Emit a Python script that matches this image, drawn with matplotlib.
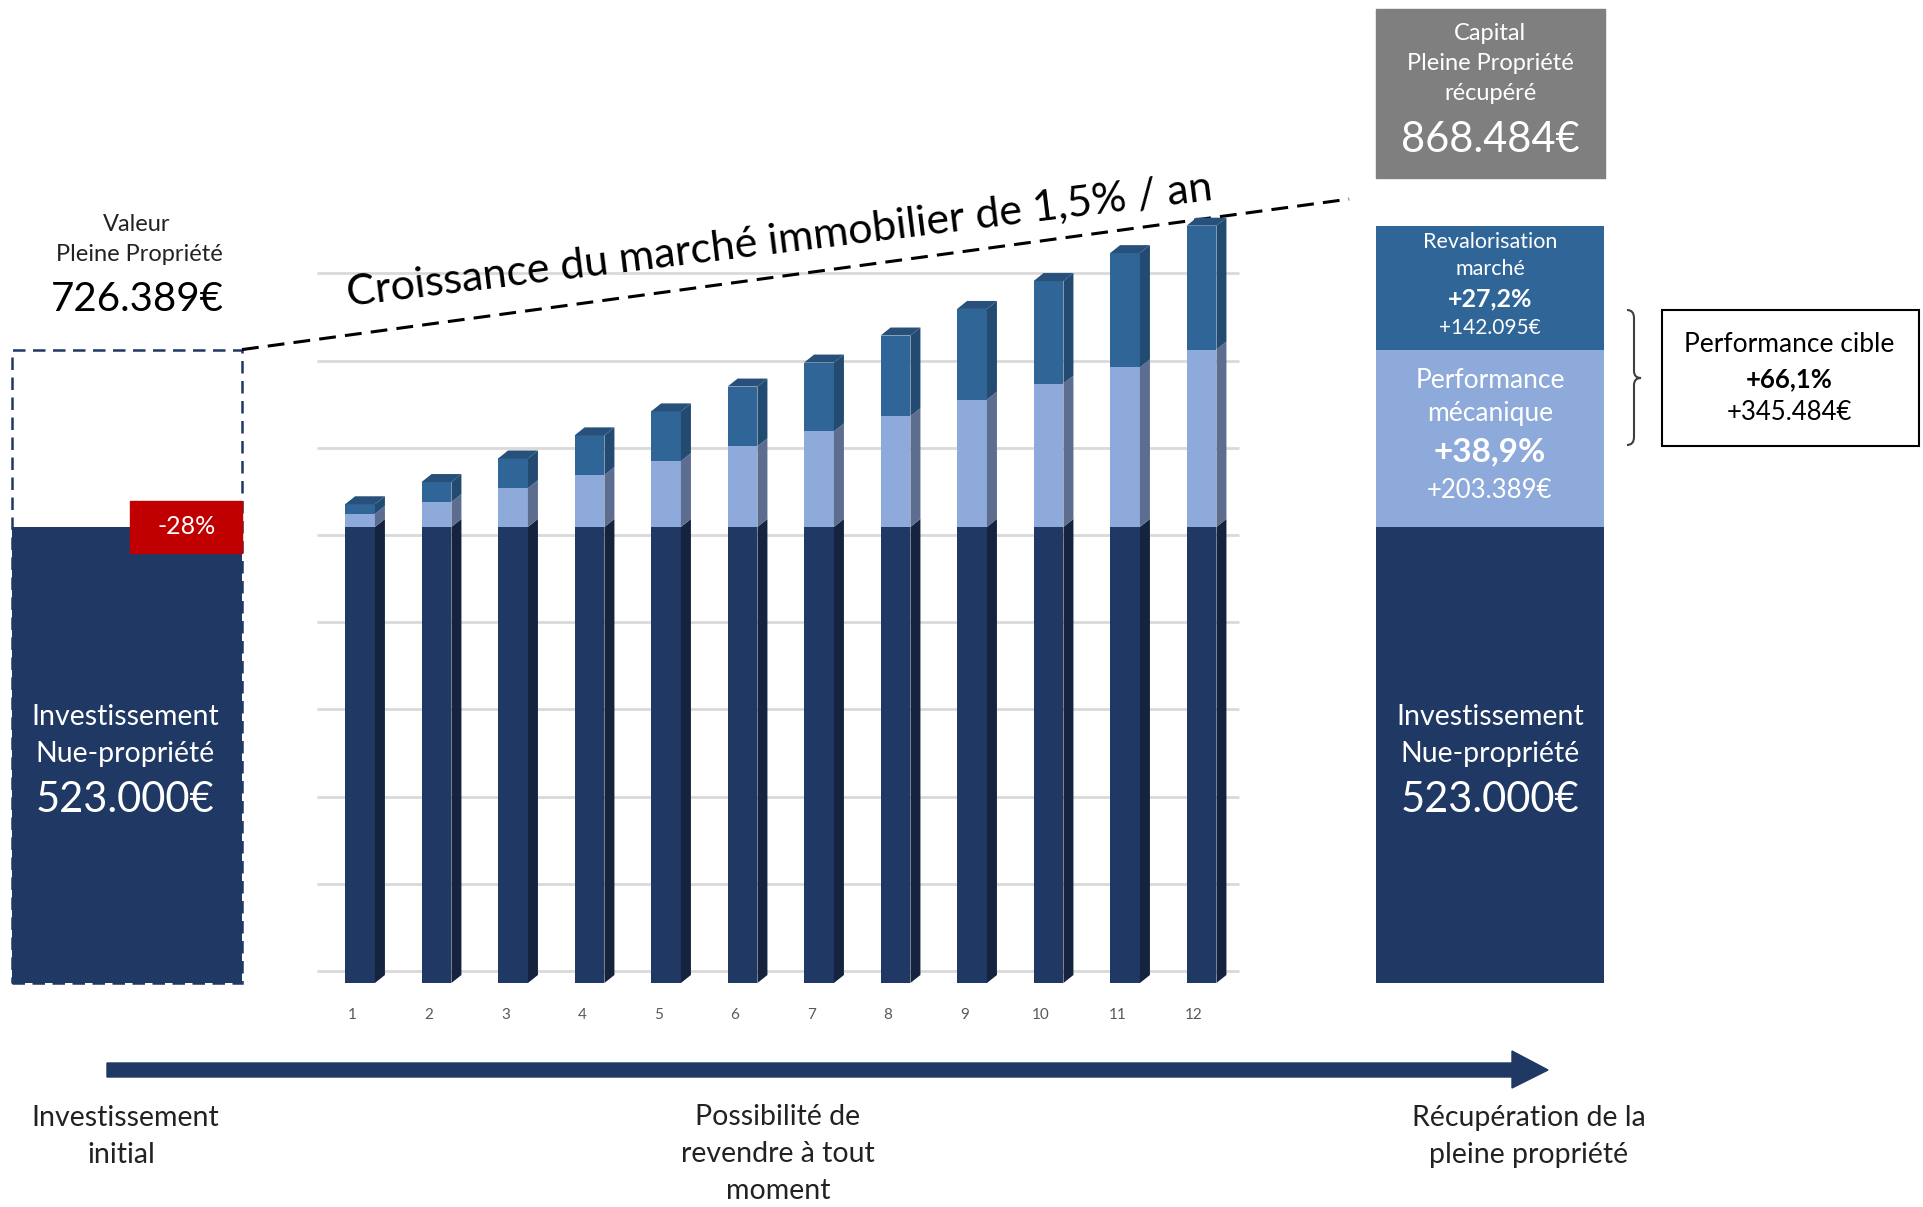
import matplotlib.pyplot as plt
import matplotlib.transforms as mtransforms
from matplotlib.patches import Rectangle, Polygon, PathPatch
from matplotlib.path import Path
import numpy as np

# Data
years = list(range(1, 13))
nue_propriete = [523000] * 12
perf_mecanique = [15000, 28500, 44500, 59500, 75500, 92500, 109500, 127000, 146000, 164500, 183000, 203389]
revalorisation = [11000, 23000, 34000, 45500, 57000, 68500, 79000, 92500, 104000, 117500, 131000, 142095]

investissement = 523000
valeur_pleine_propriete = 726389
capital_final = 868484
marche_line = [726389, 899000]   # dashed growth line (start, end)
grid_values = list(range(0, 900000, 100000))

W, H = 1923, 1207
plt.rcParams['font.family'] = ['Lato', 'DejaVu Sans']

NAVY, NAVY_SIDE = '#1f3864', '#15233f'
LIGHT, LIGHT_SIDE = '#8eaadb', '#5d6d8f'
MID, MID_SIDE, MID_TOP = '#306598', '#234a70', '#27507a'
TXT = '#222222'

fig = plt.figure(figsize=(W / 100, H / 100), dpi=100)
fig.patch.set_facecolor('white')
ax = fig.add_axes([0, 0, 1, 1])
ax.set_xlim(-3.706, 21.431)
ax.set_ylim(-256881, 1127294)
ax.axis('off')

# pixel-space transform (origin top-left) for the decorations
PX = mtransforms.Affine2D().scale(1 / 100, -1 / 100).translate(0, H / 100) + fig.dpi_scale_trans


def label(px, py, s, **kw):
    kw.setdefault('ha', 'center')
    kw.setdefault('va', 'center')
    kw.setdefault('color', TXT)
    fig.text(px / W, 1 - py / H, s, **kw)


# gridlines (shifted up a little, like the 3D floor of the original)
xs = np.array(years, dtype=float)
grid_trans = mtransforms.offset_copy(ax.transData, fig=fig, x=0, y=12, units='dots')
ax.hlines(grid_values, xs[0] - 0.56, xs[-1] + 0.49, color='#d9d9d9', lw=2, transform=grid_trans, zorder=1)

# stacked bars, front faces
nue = np.array(nue_propriete)
perf = np.array(perf_mecanique)
reval = np.array(revalorisation)
bw = 0.39
ax.bar(xs, nue, bw, color=NAVY, zorder=3)
ax.bar(xs, perf, bw, bottom=nue, color=LIGHT, zorder=3)
ax.bar(xs, reval, bw, bottom=nue + perf, color=MID, zorder=3)

# fake 3D: side and top faces, built from the same data in display space
dx, dy = 10, 8
segments = [(np.zeros(12), nue, NAVY_SIDE), (nue, nue + perf, LIGHT_SIDE), (nue + perf, nue + perf + reval, MID_SIDE)]
for b_vals, t_vals, side_col in segments:
    for x, b, t in zip(xs, b_vals, t_vals):
        (xl, yb), (xr, yt) = ax.transData.transform([(x - bw / 2, b), (x + bw / 2, t)])
        side = [(xr, yb), (xr + dx, yb + dy), (xr + dx, yt + dy), (xr, yt)]
        fig.add_artist(Polygon(side, closed=True, transform=mtransforms.IdentityTransform(),
                               color=side_col, lw=0, zorder=2))
for x, t in zip(xs, nue + perf + reval):
    (xl, yt), (xr, _) = ax.transData.transform([(x - bw / 2, t), (x + bw / 2, t)])
    top = [(xl, yt), (xl + dx, yt + dy), (xr + dx, yt + dy), (xr, yt)]
    fig.add_artist(Polygon(top, closed=True, transform=mtransforms.IdentityTransform(),
                           color=MID_TOP, lw=0, zorder=2))

for x, y in zip(xs, years):
    ax.text(x - 0.1, -37000, str(y), ha='center', va='center', fontsize=11, color='#595959')

# left block: initial investment inside the full-ownership value
lx, lw_ = -2.046, 3.007
ax.bar(lx, investissement, lw_, color=NAVY, zorder=2)
ax.add_patch(Rectangle((lx - lw_ / 2, 0), lw_, valeur_pleine_propriete, fill=False,
                       ec=NAVY, lw=1.8, ls=(0, (5, 3)), zorder=4))
red_w, red_h = 1.46, 59600
ax.add_patch(Rectangle((lx + lw_ / 2 - red_w, investissement - red_h / 2), red_w, red_h,
                       color='#c00000', zorder=5))
ax.text(lx + lw_ / 2 - red_w / 2, investissement, '-28%', ha='center', va='center',
        fontsize=18, color='white', zorder=6)

# dashed market growth line
ax.plot([lx + lw_ / 2, 13.93], marche_line, color='black', lw=2.2, ls=(0, (5.5, 3)), zorder=4)

# right block: recovered full ownership
rx, rw = 15.77, 2.99
ax.bar(rx, investissement, rw, color=NAVY, zorder=2)
ax.bar(rx, perf[-1], rw, bottom=investissement, color=LIGHT, zorder=2)
ax.bar(rx, reval[-1], rw, bottom=investissement + perf[-1], color=MID, zorder=2)

# grey capital box
fig.add_artist(Rectangle((1376, 9), 229, 169, transform=PX, color='#7f7f7f'))

# performance cible box + brace
fig.add_artist(Rectangle((1662, 310), 257, 136, transform=PX, fill=False, ec='black', lw=1.5))
brace = Path([(1627, 310), (1634, 310), (1634, 318), (1634, 371), (1634, 378), (1641, 378),
              (1634, 378), (1634, 385), (1634, 437), (1634, 445), (1627, 445)],
             [Path.MOVETO, Path.CURVE3, Path.CURVE3, Path.LINETO, Path.CURVE3, Path.CURVE3,
              Path.CURVE3, Path.CURVE3, Path.LINETO, Path.CURVE3, Path.CURVE3])
fig.add_artist(PathPatch(brace, transform=PX, fill=False, ec='#404040', lw=1.5))

# timeline arrow
arrow = [(107, 1063), (1512, 1063), (1512, 1051), (1548, 1070), (1512, 1088), (1512, 1077), (107, 1077)]
fig.add_artist(Polygon(arrow, closed=True, transform=PX, color=NAVY))

# texts
label(780, 240, 'Croissance du marché immobilier de 1,5% / an', fontsize=31, rotation=7,
      rotation_mode='anchor', color='black')

label(137, 224, 'Valeur', fontsize=17)
label(139, 255, 'Pleine Propriété', fontsize=17)
label(137, 299, '726.389€', fontsize=29, color='black')

for cx in (125, 1490):
    label(cx, 717, 'Investissement', fontsize=20.5, color='white')
    label(cx, 754, 'Nue-propriété', fontsize=20.5, color='white')
    label(cx, 800, '523.000€', fontsize=30, color='white')

label(1490, 34, 'Capital', fontsize=17, color='white')
label(1490, 64, 'Pleine Propriété', fontsize=17, color='white')
label(1490, 94, 'récupéré', fontsize=17, color='white')
label(1490, 140, '868.484€', fontsize=30, color='white')

label(1490, 242, 'Revalorisation', fontsize=15.5, color='white')
label(1490, 269, 'marché', fontsize=15.5, color='white')
label(1490, 299, '+27,2%', fontsize=18, color='white', fontweight='bold')
label(1490, 328, '+142.095€', fontsize=15, color='white')

label(1490, 380, 'Performance', fontsize=19, color='white')
label(1490, 414, 'mécanique', fontsize=19, color='white')
label(1490, 452, '+38,9%', fontsize=24, color='white', fontweight='bold')
label(1490, 491, '+203.389€', fontsize=18.5, color='white')

label(1789, 345, 'Performance cible', fontsize=19, color='black')
label(1789, 379, '+66,1%', fontsize=18.5, color='black', fontweight='bold')
label(1789, 412, '+345.484€', fontsize=18.5, color='black')

label(125, 1118, 'Investissement', fontsize=20.5)
label(121, 1155, 'initial', fontsize=20.5)
label(778, 1117, 'Possibilité de', fontsize=20.5)
label(778, 1154, 'revendre à tout', fontsize=20.5)
label(778, 1191, 'moment', fontsize=20.5)
label(1529, 1118, 'Récupération de la', fontsize=20.5)
label(1529, 1155, 'pleine propriété', fontsize=20.5)

fig.savefig('out.png', dpi=100, facecolor='white')
